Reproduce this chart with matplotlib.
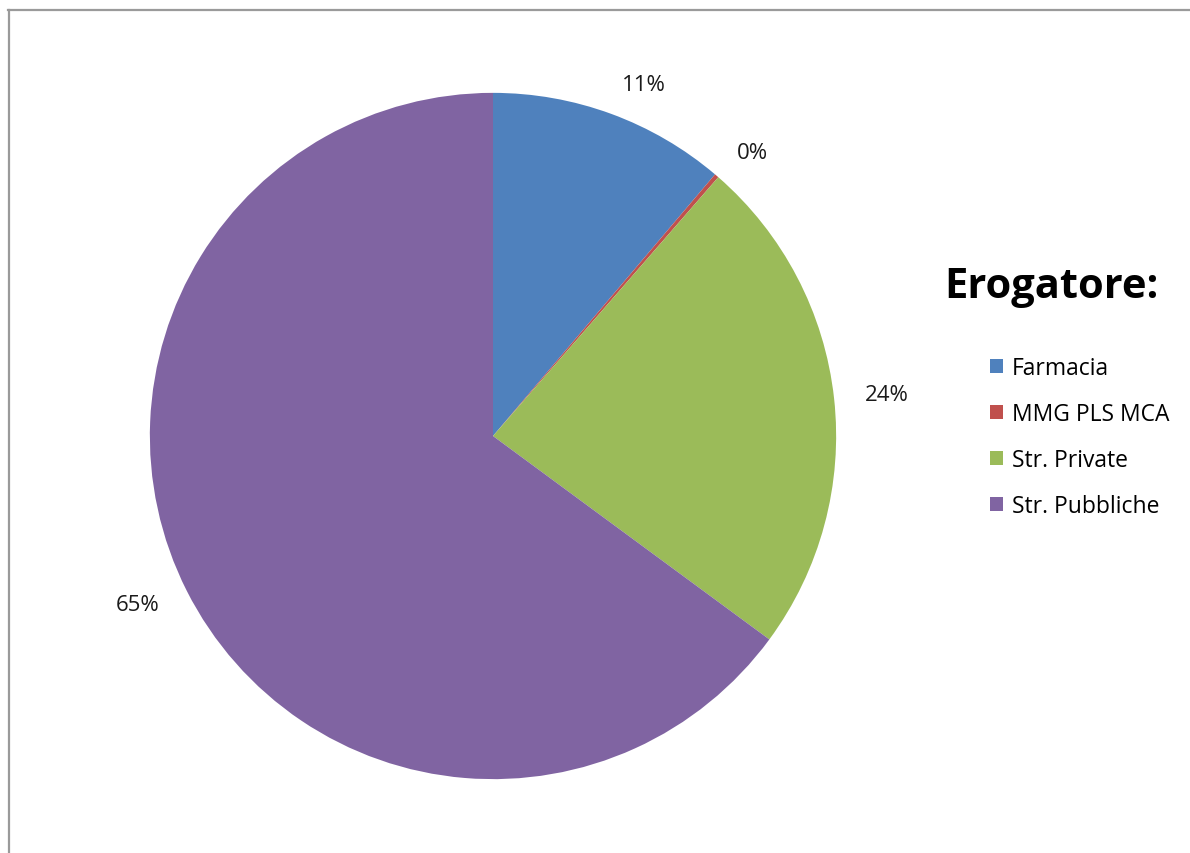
import matplotlib.pyplot as plt
from matplotlib.lines import Line2D
from matplotlib.patches import Patch

# dati
categorie = ["Farmacia", "MMG PLS MCA", "Str. Private", "Str. Pubbliche"]
valori = [11.2, 0.2, 23.7, 64.9]
etichette = ["11%", "0%", "24%", "65%"]
colori = ["#4F81BD", "#C0504D", "#9BBB59", "#8064A2"]

plt.rcParams['font.family'] = ['Open Sans', 'DejaVu Sans']

fig = plt.figure(figsize=(11.9, 8.54), dpi=100)
fig.patch.set_facecolor("white")

# area della torta
ax = fig.add_axes([143/1190, 1 - 787/854, 700/1190, 700/854])
ax.pie(valori, labels=etichette, colors=colori, startangle=90,
       counterclock=False, labeldistance=1.09, radius=1,
       textprops={'fontsize': 16, 'color': '#1a1a1a'},
       wedgeprops={'linewidth': 0})
ax.set_xlim(-1.02, 1.02)
ax.set_ylim(-1.02, 1.02)
ax.set_aspect('equal')

# titolo legenda
fig.text(944/1190, 1 - 288/854, "Erogatore:", fontsize=30, fontweight='bold',
         ha='left', va='center', color='black')

maniglie = [Patch(facecolor=c, edgecolor='none') for c in colori]
fig.legend(maniglie, categorie, loc='upper left',
           bbox_to_anchor=(979/1190, 1 - 346/854), frameon=False,
           fontsize=16.5, handlelength=0.55, handleheight=0.55,
           handletextpad=0.4, labelspacing=0.95, borderpad=0)

# cornice (solo alto e sinistra visibili)
fig.add_artist(Line2D([8/1190, 1], [1 - 11/854, 1 - 11/854],
                      color='#9a9a9a', linewidth=1.6))
fig.add_artist(Line2D([9/1190, 9/1190], [0, 1 - 11/854],
                      color='#9a9a9a', linewidth=1.6))

fig.savefig("out.png", dpi=100)
